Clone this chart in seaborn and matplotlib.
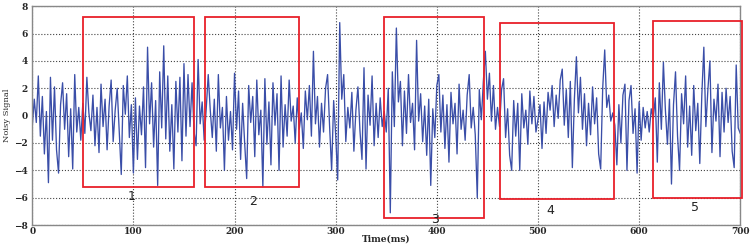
import numpy as np
import pandas as pd
import matplotlib.pyplot as plt
import seaborn as sns
from matplotlib.patches import Rectangle

signal = [
    -0.8, 1.2, -0.5, 2.9, -1.5, 1.4, -2.8, 0.3, -4.9, 2.8, -1.8, 2.1, -2.5, -4.2, 0.8, 2.4, -1.0, 1.6, -3.0, 0.5, -3.9, 3.0, -1.2, 0.6, -1.8,
    0.9, -1.3, 2.8, 0.2, -1.1, 1.5, -2.2, 0.6, -2.7, 2.3, -0.8, 1.2, -2.5, 0.7, 2.6, -1.9, 0.4, 2.0, -1.2, -4.3, 2.2, 0.1, 2.9, -1.6, 0.8,
    -4.2, 1.3, -3.2, 0.7, -1.4, 2.1, -3.8, 5.0, -0.6, 2.4, -2.3, 1.1, -5.1, 3.2, -0.9, 5.1, -1.7, 2.9, -2.6, 0.8, -3.9, 2.5, -1.2, 2.8, -3.3,
    3.8, -1.5, 3.0, -0.8, 2.4, -1.2, -2.2, 4.1, -0.6, 1.0, -1.8, 0.5, 3.0, 0.4, -1.6, 1.2, -2.6, 3.0, -0.9, 0.6, -4.0, 1.4, -1.8, 0.3, -2.5,
    3.1, -1.0, 1.8, -3.2, 0.9, -2.0, -4.6, 2.2, -0.5, 1.4, -3.0, 2.6, -1.4, 0.4, -5.2, 2.7, -2.1, 1.0, -3.6, 2.4, -0.7, 1.6, -4.0, 2.9, -2.3,
    0.8, -1.5, 2.6, -0.4, 0.7, -2.0, 1.3, -1.0, 0.2, -2.4, 1.8, -0.3, 2.2, -1.5, 4.7, -0.6, 1.4, -2.3, 0.9, -1.2, 2.0, 3.0, -0.8, -4.0, 1.1,
    -1.4, -4.7, 6.8, 1.2, 3.0, -1.9, 0.6, -0.9, 1.7, -2.6, 0.4, 2.1, -1.1, -3.2, 3.5, -3.9, 1.5, -0.7, 2.9, -2.2, 0.9, -1.6, 1.3, -0.8, 0.3,
    -1.2, 2.0, -7.1, 3.2, -0.8, 6.4, 1.0, 2.5, -2.2, 1.8, -1.3, 3.0, -0.5, 0.9, -2.5, 5.5, -0.4, 1.6, -1.9, 0.7, -2.9, 1.2, -5.1, 0.5, -1.6,
    2.2, 3.0, -1.2, 1.5, -2.4, 0.8, -3.4, 1.7, -0.6, 0.9, -2.8, 2.3, -1.0, 0.4, -1.8, 1.5, 3.0, -0.9, 0.6, -1.4, -6.0, 1.9, -0.3, 2.5, 4.7,
    1.2, 3.1, -0.4, 2.2, -1.0, 0.6, -0.8, 1.9, 2.7, -1.6, 0.5, -2.9, -4.0, 1.1, -1.5, 0.9, -4.0, 1.6, -0.9, 0.4, -2.1, 1.8, -0.6, 1.4, -1.2,
    -0.3, 0.8, -2.4, 1.0, -1.3, 1.7, 0.4, 2.2, -0.8, 1.5, -0.2, 2.6, 3.4, -0.7, 1.9, -1.6, 2.5, -3.8, 1.2, 4.3, 0.2, 2.8, -1.0, 1.6, -2.2,
    0.9, -1.4, 2.1, -0.6, 1.3, -2.8, -3.9, 2.0, 4.8, 0.6, 1.5, -0.4, 0.2, -0.7, -3.6, 0.8, -2.0, 1.5, 2.3, -4.0, 1.1, 2.2, -1.3, 0.5, -4.2,
    1.0, -1.8, 0.6, -0.9, 0.3, -1.2, 0.5, -0.2, 1.3, -3.4, 2.4, -1.0, 3.9, 0.4, -2.1, 1.2, -5.0, 0.8, 3.2, -1.5, -4.0, 1.6, -0.6, 2.9, -2.3,
    0.7, -2.9, 2.2, -1.1, 0.9, -3.5, 1.5, 5.0, -0.8, 1.9, 4.0, -2.7, 1.2, -0.4, 2.3, -3.0, 1.7, -1.2, 2.0, -0.5, 1.4, -2.6, -3.8, 3.7, -0.9,
    -1.3,
]
time_ms = 2 * np.arange(len(signal))

# highlighted windows
box_labels = ['1', '2', '3', '4', '5']
box_left = [50, 171, 348, 462, 614]
box_right = [160, 264, 447, 575, 702]
box_bottom = [-5.25, -5.25, -7.5, -6.1, -6.05]
box_top = [7.2, 7.2, 7.2, 6.75, 6.9]
label_x = [98, 218, 398, 512, 655]
label_y = [-5.9, -6.3, -7.6, -6.9, -6.7]

sns.set_style('white')
fig = plt.figure(figsize=(7.5, 2.46), dpi=100)
ax = fig.add_axes([0.043, 0.085, 0.944, 0.89])

df = pd.DataFrame({'Time(ms)': time_ms, 'Noisy Signal': signal})
sns.lineplot(data=df, x='Time(ms)', y='Noisy Signal', ax=ax, color='#3a4ea8', linewidth=0.95)

for l, r, b, t, lab, lx, ly in zip(box_left, box_right, box_bottom, box_top, box_labels, label_x, label_y):
    ax.add_patch(Rectangle((l, b), r - l, t - b, fill=False, edgecolor='#e8202a', linewidth=1.3, clip_on=False, zorder=3))
    ax.text(lx, ly, lab, ha='center', va='center', fontsize=9, color='#222222', clip_on=False, zorder=4)

ax.set_xlim(0, 700)
ax.set_ylim(-8, 8)
ax.set_xticks(np.arange(0, 701, 100))
ax.set_yticks(np.arange(-8, 9, 2))
ax.grid(True, linestyle=':', color='#444444', linewidth=0.8)
for s in ax.spines.values():
    s.set_color('#888888')
    s.set_linewidth(1.0)

ax.tick_params(axis='y', length=0, pad=3)
ax.tick_params(axis='x', length=0, pad=1.5)
for lbl in ax.get_xticklabels() + ax.get_yticklabels():
    lbl.set_fontfamily('DejaVu Serif')
    lbl.set_fontweight('bold')
    lbl.set_fontsize(6.5)
ax.set_xlabel('Time(ms)', fontdict={'family': 'DejaVu Serif', 'weight': 'bold', 'size': 6.5}, labelpad=-1)
ax.set_ylabel('Noisy Signal', fontdict={'family': 'DejaVu Serif', 'size': 6}, labelpad=2)

fig.savefig('out.png', dpi=100)
